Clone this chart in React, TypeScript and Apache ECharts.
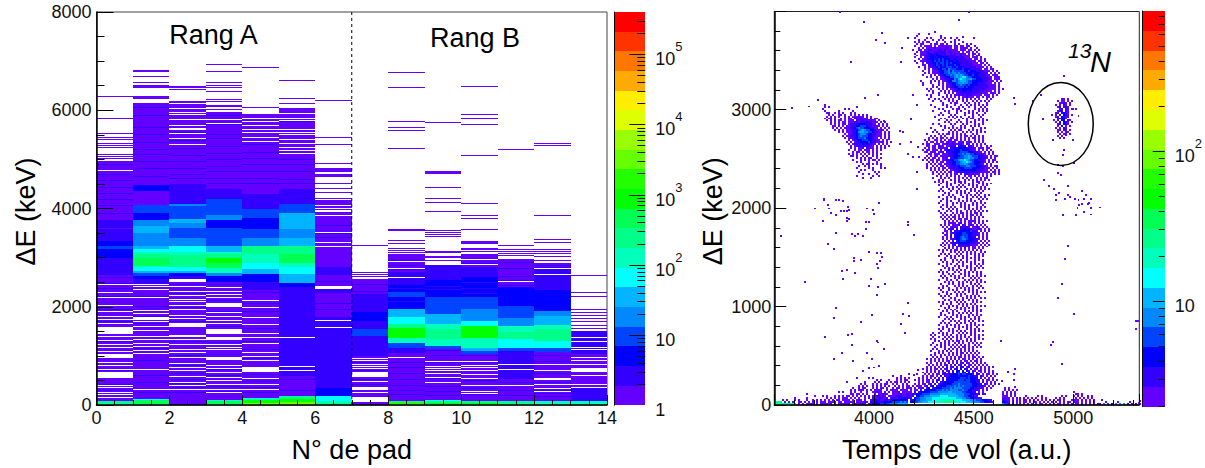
import React, { useEffect, useRef } from "react";
import * as echarts from "echarts";

const FONT = '"Liberation Sans", Arial, sans-serif';
const palette = ["#6400ff","#3300ff","#0000ff","#0044ff","#0088ff","#00b4ff","#00ffff","#00ffbb","#00ff88","#00ff55","#00ff00","#22ff00","#66ff00","#99ff00","#ddff00","#ffee00","#ffaa00","#ff7700","#ff3300","#ff0000"];

// colour scale edges
const leftBarEdges = [1,1.905,3.63,6.92,13.2,25.1,47.9,91.2,174,331,631,1202,2291,4365,8318,15849,30200,57544,109648,208930,398107];
const rightBarEdges = [1.98,2.68,3.63,4.92,6.66,9.03,12.2,16.6,22.4,30.4,41.2,55.8,75.6,102,139,188,255,345,467,633,858];
const leftBarMajor = [10,100,1000,10000,100000];
const leftBarMinor = [2,3,4,5,6,7,8,9,20,30,40,50,60,70,80,90,200,300,400,500,600,700,800,900,2000,3000,4000,5000,6000,7000,8000,9000,20000,30000,40000,50000,60000,70000,80000,90000,200000,300000];
const rightBarMajor = [10,100];
const rightBarMinor = [2,3,4,5,6,7,8,9,20,30,40,50,60,70,80,90,200,300,400,500,600,700,800];

// Left panel: per pad [lowKeV, highKeV, colour level]
const padBands: number[][][] = [
  [[0,30,7],[30,90,8],[90,4957,0],[2900,3000,1],[3000,3170,2],[3170,3240,3],[3240,3330,2],[3330,3573,1],[3600,3760,1],[2640,2900,1]],
  [[0,30,8],[30,100,9],[100,130,6],[130,6141,0],[2440,2560,1],[2560,2625,2],[2625,2693,3],[2693,2727,5],[2727,2800,6],[2800,2830,7],[2830,3000,9],[3000,3065,8],[3065,3120,7],[3120,3170,6],[3170,3235,5],[3235,3760,4],[3500,3640,5],[3760,3900,2],[3900,4076,3],[4350,4480,2]],
  [[0,25,2],[25,6170,0],[2500,2625,1],[2625,2693,2],[2693,2727,5],[2727,2800,6],[2800,3050,8],[3050,3105,7],[3105,3235,6],[3235,3400,4],[3400,3600,3],[3600,3700,4],[3700,3780,5],[3780,4050,3],[4050,4100,4],[4100,4500,1]],
  [[0,30,8],[30,85,9],[85,110,7],[110,5972,0],[2500,2625,2],[2625,2693,4],[2693,2794,7],[2794,2890,9],[2890,3000,10],[3000,3065,8],[3065,3120,7],[3120,3235,5],[3235,3600,3],[3600,3760,2],[3760,3860,4],[3860,4200,3],[4200,4400,1]],
  [[0,50,12],[50,110,10],[110,150,7],[150,5925,0],[2350,2500,1],[2500,2660,2],[2660,2760,5],[2760,2900,6],[2900,3065,7],[3065,3235,8],[3235,3400,4],[3400,3573,3],[3573,3800,2],[3800,4000,3],[4000,4300,1]],
  [[0,55,12],[55,120,10],[120,190,8],[190,6026,0],[2390,2490,2],[2490,2660,5],[2660,2800,6],[2800,2900,7],[2900,3065,9],[3065,3235,8],[3235,3400,5],[3400,3573,4],[3573,3900,5],[3900,4100,3],[4100,4400,1],[600,2400,1]],
  [[0,40,8],[40,90,7],[90,180,6],[180,3840,1],[180,340,2],[1800,2300,0],[2400,3300,0],[2640,2800,1],[3300,3840,0]],
  [[0,66,0],[154,2558,0],[1000,1400,1],[1407,1540,3],[1540,2250,1],[1700,1900,2]],
  [[0,30,10],[30,60,11],[60,90,8],[90,3065,0],[1170,1270,3],[1270,1373,7],[1373,1576,10],[1576,1644,8],[1644,1799,6],[1799,1948,5],[1948,2450,2],[2450,2700,1],[1065,1170,1],[2200,2300,3]],
  [[0,40,10],[40,85,8],[85,110,6],[110,2849,0],[1136,1200,3],[1200,1340,7],[1340,1540,8],[1540,1644,7],[1644,1846,5],[1846,2200,3],[2200,2550,2],[2550,2849,1]],
  [[0,35,10],[35,85,8],[85,3065,0],[1040,1100,3],[1100,1170,5],[1170,1373,7],[1373,1610,10],[1610,1710,6],[1710,1950,4],[1950,2200,3],[2200,2600,2],[2600,2800,1]],
  [[0,30,10],[30,85,8],[85,2977,0],[530,1100,1],[1100,1170,3],[1170,1340,6],[1340,1480,8],[1480,1610,7],[1610,1780,4],[1780,2020,3],[2020,2400,2]],
  [[0,30,8],[30,85,7],[85,2896,0],[1070,1170,3],[1170,1300,6],[1300,1540,8],[1540,1620,7],[1620,1810,5],[1810,1910,4],[1910,2350,2],[2350,2800,1]],
  [[0,30,8],[30,85,7],[85,350,1],[350,1508,0],[1040,1508,1]],
];
const padGaps: number[][][] = [
  [[4770,4790],[2446,2466],[2290,2310],[2175,2195],[2020,2040],[1884,1904],[1789,1809],[1735,1755],[1654,1674],[1440,1596],[1383,1403],[1295,1315],[1227,1247],[1160,1180],[1078,1098],[953,1034],[855,875],[787,807],[720,740],[547,662],[395,415],[347,367],[246,266],[198,218],[144,164]],
  [[2446,2466],[2400,2420],[2345,2365],[2175,2195],[1905,1925],[1860,1880],[1732,1799],[1681,1701],[1586,1606],[1498,1518],[1383,1403],[1320,1335],[1240,1255],[1173,1193],[1110,1125],[1038,1058],[720,740],[300,320]],
  [[2503,2558],[2412,2432],[2310,2330],[2220,2235],[2150,2165],[2087,2107],[2006,2026],[1940,1955],[1820,1835],[1750,1765],[1596,1664],[1420,1435],[1385,1400],[1330,1345],[1230,1245],[1126,1146],[1060,1075],[956,976],[845,860],[760,775],[690,705],[575,590],[460,475],[385,400],[310,325],[5600,5610],[5530,5540],[5430,5440],[5295,5305],[5520,5530],[5620,5630],[5671,5691],[5793,5813],[5894,5914],[5942,5962],[6016,6036],[6118,6138]],
  [[2378,2398],[2310,2325],[2245,2260],[2175,2190],[2002,2070],[1870,1885],[1790,1805],[1725,1740],[1655,1670],[1440,1542],[1320,1393],[1230,1245],[1163,1178],[1115,1130],[910,970],[795,810],[740,755],[655,670],[555,570],[490,505],[420,435],[315,330],[240,255],[5806,5826],[5725,5745]],
  [[2121,2141],[1969,2002],[1769,1789],[1634,1654],[1451,1471],[1365,1380],[1250,1265],[1060,1075],[990,1005],[910,925],[676,777],[540,555],[415,430],[310,325],[5826,5846],[5760,5780],[5671,5691],[5603,5623],[5535,5555],[5440,5460],[5360,5380]],
  [[1363,1383],[774,794],[686,706],[5915,5935],[5826,5846],[5779,5799],[5603,5623],[5535,5555],[5488,5508],[5400,5420],[5305,5325],[5238,5258],[5170,5190],[5102,5122]],
  [[2354,2422],[1701,1721],[1566,1586],[3510,3530],[3306,3326],[3225,3245]],
  [[937,957],[895,910],[825,840],[780,795],[740,755],[574,675],[475,490],[303,357],[250,265]],
  [[3120,3130],[2920,2935],[960,975],[2600,2610],[2780,2790]],
  [[2849,2930],[890,905],[780,795],[740,755],[700,715],[445,460],[640,655],[560,575]],
  [[880,895],[800,815],[765,780],[690,705],[610,625],[530,545],[400,415],[280,295],[230,245],[2860,2875],[2950,2965]],
  [[825,840],[720,735],[400,415],[2510,2525]],
  [[2781,2795],[810,825],[700,715],[510,540],[415,430],[330,345],[270,285],[2650,2665]],
  [[1373,1393],[1277,1297],[1170,1190],[1124,1140],[960,980],[895,910],[825,840],[675,745],[595,610],[420,435],[350,365]],
];
const padLines: number[][] = [
  [6290,5837,5532,5451,5397,5315,5275,5248,5092,5058,5024],
  [6800,6785,6690,6568,6514,6500,6480,6460,6270,6250,6230],
  [6480,6465,6419,6185,6165,6087,6050,5990,5925,5870,5760,5650],
  [6940,6791,6568,6500,6460,6392,6222,6175,6107,6090,6070,6020],
  [6872,6060,5900,5800,5730,5650,5580,5500,5410],
  [6608,6243,6141,6026,6005,5985,5880,5700,5680,5650],
  [6189,5451,5309,4923,4821,4787,4770,4753,4686,4670,4652,4503,4415,4327,4198,4164,4140,4120,4100,4076,4042,4025,3975,3928,3900,3870],
  [3248,2693,2650,2610],
  [6778,6466,5776,5654,5593,5227,3562,3573,3356,3289,3180,3150,3113],
  [5755,4753,4730,4706,4435,4212,4130,3948,3548,3481,3427,3553,3505,3438,3130,3100,3032,3010,2950],
  [6487,5918,5837,5715,5085,4110,3867,3806,3582,3322,3305,3289,3180,3160,3130],
  [5207,3255,3167,3130,3085,3040],
  [5329,5288,3867,3370,3316,3170,3120,3085,3020,2950],
  [2632,2287,2206,1935,1880,1825,1760,1690,1625,1555],
];
const padStripes: number[][] = [
  [4900,4700,4580,4420,4300,4180,4060,3900,2600,2480,2380,2200,1950,1700,1300,1000,700,420,290],
  [6050,5900,5650,5500,5350,5200,5100,4950,4820,4650,2350,2200,2000,1800,1650,1400,1150,900,600,450,250],
  [5550,5380,5220,5080,4960,4820,4700,4610,2460,2270,1980,1700,1290,1000,800,640,520,430,360,250],
  [5900,5700,5500,5420,5260,5120,5000,4860,4760,4620,4500,2450,2130,1900,1600,1280,1020,720,600,380,280],
  [5800,5600,5300,5150,5020,4900,4760,4620,4500,2300,2060,1900,1560,1300,1140,950,620,470,360,250],
  [5780,5500,5000,4900,4760,4600,4500,2280,2050,1700,1420,1100,850,520,300],
  [3650,3500,3420,2520,2300,2060,1950,1620,1450,1250,1000,800,620,500],
  [2450,2320,2150,2060,940,860,700,520,420],
  [2950,2840,2760,2620,2520,2380,2100,960,860,760,650,520,400,300,220],
  [2760,2680,2620,2420,2350,1100,1000,860,700,540,380,280,200],
  [2880,2720,2660,2500,2380,2280,1000,860,760,620,500,340,220],
  [2900,2780,2620,2540,2440,1020,900,760,620,460,300,200],
  [2850,2720,2560,2430,1000,880,640,460,300,240,170],
  [1480,1350,1220,1080,320,260,200,150,120],
];
const dividerX = [[7,0],[7,8000]];

// Right panel: histogram rows, top row first. '.' = empty, digit = colour level + 1
const mainX0 = 4180, mainYTop = 3780;
const rowsMain = [
"............1","....1....1","...1...........1","..1.....1.1....1.1..1..1","....1..1...1..1.1.....1.1",
"..1.1.1.11...1...1..1.1...1","...1.11...1.11.11.1...1.1...1.1","..1..1.1111.1.1111111.11.11.11..1","....1.1.1111211111211.11.1111.1..1",".1..11.11221112212111111.111.11.1.1",
"...1.11122112222221221111.1.11.1.1","..1..11122322322221121211211.1.11.1","...1.1122233233322222221121111.1.11","..1..1.12233323333322222222111.111.1","....1.1123332343433322322222111.11.1.1",
"..1..1112223434343433323222222111.11.1","...1..1.12233434434343333222222111.11.1","......11.222342343433343322222211111.1.1","....1..1.1122343234443343322222221111.1.1",".......1.1.1223344354443334333222221.11.11",
"......1..1.11123344535444443343332222111.1.1",".......1.1.1112334454554544433323332222.1.1.1","......1...1.1.12234454565654433433222211.111","........1.1..1.12233445656775443333222211.111","...........1.1.11222335467665564433322221.111",
".....1....1.1.1.11233554566654433333222111.1.1","......1...1...1.1.12233455655443332222111.1.1","......1....1..1.1.1123344544343333222221111.1","...........1.1..1.1122334443433322222221111.1","........1.1...1.1.1.11223233333222222211111.1.1",
".........1.1...1.1.1.11222332232222121111.1.1","...........1..1..1.1.1.1222222222212111.111.1","........1.1...1...1.1.11212122211111.111.1.1","..........1.....1.1.1.1.1.112111.11.1.11.1",".........1..1.1..1.1.1..1.1.1.1.1.1...1.1",
"...........1...1...1.1.1..1.1..1.1.1.1.1","................1...1.11...1.1..1.1...1","..........1.....1.1...1..1..1.1.1.1.1.1","............1.....1.1...1.1..1..1..1.1","..............1.1....1.11..1....1.1.1.1",
"...........1.....1.1...1.1...1.1..1.1.1","...............1...1...1...1.1.1.1...1","..............1.1...1.1....1...1..1.1","............1......1.1.1.1...1.1...1","...............1.1....1...1.1.11..1.1",
"..............1...1.1...1...1...1.1.1.1",".................1.1...1.1..1.1.1...1","...........1..1.....1.1...1.1...1.1.1","...............1.1...1...1.1..1.1.1","..........1......1.1.1.1.1.1...1...1.1",
"............1...1...1.1.11...1.1.1.1","...........1.1.....1.1.1..1.1.1..1.1.1","........1.....1.1.11.1.1.1.1...1.1","..........1.1..1.1...1.1.1.11.1.1.1.1",".........1.1.1.11.1.11.1.1.1.1.11.1.1",
".......1.1..11.1.1.11.11.1.1.1..1.1.1","........1.11.1.11.11121.112.111.1.1.1","......1.11..111.11211211221.21.1.1.1.1","........11.11.211.11222.2322.221.1.1..1.1",".......1.1.11.21112.2232333322221.111.11",
"......1.11.111.2.1232233343332211.1.1.1.1",".......11.111.112.222333344443332211.1.1.1",".........11.111.1112223344545544322211.1.1","........1.1.11.111122233344556544432211.1.11",".......1.1.11.1.112.2233444556554432221.1.1",
"......1.1.11.11.1122334456676544332221.1.11",".........1.1.1.11.12233445667654333221.1.1.1","........1.1.1.11.11223344556544433221.1.1","........1..1.1.11.112222344455444333221.1.11","........1.1.1.1.11.122223334444333322111.1.1",
"..........1.1.1.1.1.1122233333333222211.1.1.1","...........1.1.1.1.11.122222222222211111.11.1","...........1..1.1.1.1.11.1.22112111.1.1.1.1.1",".............1.1..1.1.1.1..1.11.1.1.1.1.1","...........1...1.1.1..1.1.1.1.1..1.1.11",
"..............1.1...1.1.1..1.1.1.1.1.1.1","............1.1.1.1...1.11.1...1.11.1","...............1..1.1.1..1.1.1.1..1.1.1.1","..............1...1.1...1.1..1.1.1..1.1","................1.1..1.1.1.1...1.1.1.1",
"...............1...1.1..1...1.1.1..1.1.1","..............1.1...1..1.1.1..1.1.1.1",".................1.1...1.1.1.1...1.1","................1..1.1...1..1.1.1.1..1.1","..............1...1.1.1...1.1..1.1.1.1",
"................1.1...1.1...1.1...1.1.1","...............1..1.1...1.1.1.1.1..1","..............1...1..1.1.1.1...1.1.1.1","................1.1..1...1.1.1.1.1..1","...............1..1.1.1..1.1.1...1.1.1",
"................1..1.1.1...1.1.1.1.1","..............1...1.1..1.1..1.1.1.1.1.1","...............1.1...1.1.11.1.1.11.1","................1.1.1.1.1.1.1.11.1.1","...............1.1.1.11.1.1.1.1.1.1.1",
"................1.1.1.1.11.11.1.1.1",".................1.1.1.1.1.1.1111.1.1.1",".................1.1111.12.1.11.1.1.1","...............1.1.1.1112.21.121.1.1.1","................1.1.1211.22221.1121.1.1",
".................1.122.2.22323211121.1.1",".................11.2.222333334222.1.1.1","................1.1.122333443332221.1.1",".................11.2.2333444332221.1.1","................1.1.2.23345443322.1.1.1",
"................1.1.122334554333221.1.1",".................1.1.2.23444333222.1.1.1","................1.1.122233333322211.1.1","...............1.1.1.22.2222222111.1.1.1","................1..1.1.1211112.11.1.1.1",
".................1.1.1.1.1.2.1.11.1.1","..............1.1.1.1.11.1.1.1.1.1.1","................1...1.1.1.1.1.1.1..1.1","...............1.1.1...1.1..1.1.1.1.1","..............1...1.1.1.1.1.1...1.1.1",
".................1..1.1...1.1.1.1.1","...............1.1...1.1.1..1...1.1.1","................1.1..1..1.1.1.1.1...1","..............1...1.1..1..1...1.1.1.1","................1.1...1.1.1.1.1..1.1",
".................1.1.1..1...1.1.1.1.1","...............1...1.1.1.1.1..1.1","..............1.1.1...1.1..1.1.1.1.1","................1..1.1...1.1.1...1.1","...............1.1..1.1.1..1.1.1.1.1.1",
"................1.1...1.1.1...1.1.1","..............1...1.1..1...1.1.1.1.1",".................1.1.1..1.1.1.1..1.1.1","...............1...1.1..1.1...1.1.1","................1.1...1.1.1.1..1.1.1",
"..............1.1..1...1.1.1.1.1..1.1","...............1...1.1.1...1.1.1.1","................1.1...1.1.1..1.1.1.1.1","..............1...1.1..1.1.1...1.1","...............1.1.1...1.1..1.1.1.1",
"................1...1.1...1.1.1.1..1.1",".................1.1..1.1.1..1.1.1","..............1.1...1..1.1.1...1.1.1","................1.1.1...1.1.1.1.1","...............1...1.1.1..1.1..1.1.1.1",
".................1.1...1.1.1.1.1.1","..............1...1.1.1..1.1...1.1.1","................1.1..1.1...1.1.1.1.1","...............1...1.1..1.1.1.1..1","...............1.1...1.1.1...1.1.1.1",
"..............1...1.1..1.1.1.1..1.1",".................1.1.1...1.1..1.1.1","................1...1.1.1..1.1.1..1.1","...............1.1.1...1.1.1..1.1","..............1...1.1.1.1...1.1.1.1.1",
"................1.1...1.1.1.1.1..1","..............1.1..1.1..1...1.1.1.1","...............1...1.1.1.1.1..1.1.1.1","...........1..1.1.1..1..1.1.1.1.1","..........1.1...1.1.1..1.1.1..1.1.1.1",
"...........1..1..1.1.1.1.1.1.1..1.1","..........1.1...1.1.1..1.1..1.1.1.1.1","............1.1..1.1.1.11.1.1.1.1","...........1...1.1.1..1.1.1..1.1.1.1","..........1..1.1.1.1.1.1.1.1.1..1.1",
"............1..1.1..1.1.1.11.1.1.1.1","...........1.1...1.1.1.1.1.1.1.1","..........1...1.1.1.1..1.1.1.1.1.1","............1.1.1..1.1.1.11.1.1.1.1","..........1.1..1.1.1.1.1.1.1.1.1.1",
"...........1.1.1..1.1.1.11.1.1.11.1.1","........1.1.1.1.1.1.1.2.1.11.1.1.1.1","..........1.1.1.1.11.1.2.1.11.1.11.1","........1.1..1.1.1.2.1.2.12.11.1.1.1.1",".........1.1.1.1.12.1.2.12.2.11.1.1.1.1",
"........1.1.1.1.1.2.12.2.22.12.1.1.1.1.1.1","......1.1.1.11.1.12.2.22.3.22.2.11.1.1.1","........1.1.1.1.2.12.2.33.3.32.21.11.1.1.1","......1.1.1.1.1.12.2.3.34.33.3.2.2.1.1.1.1","...1...1.1.1.11.2212233343443332.22.1.11.1.1",
"......1.1.11.1.2.21233332333343322.21.1.1.1","....1.1.1.1.1.2.2.2333333444343332.2.1.1.1","..1.1.1.11.1.22.2.23333344434433322.2.11.1.1","....1.1.11.2.2.22333334444444433322.2.1.1.1","..1.1.11.12.2.2233333444544444433322.21.1.1.1",
".1.111.12.23.2233344445454544443332221.1.1","1.1.112.23.22333444454555544443322221.1.1","1.11.2.2333334445454555544544332221.1.1","1.2.23333344445555566555554433322.1.1","12233344445555566666666555544433322.21",
"12.3344555666667777666665554433211","2.3445556667777777777776665544332211","23344555666777888889888777666655544433322","334455666777788889999888877766665554433321",
];
const leftX0 = 3720, leftYTop = 3040;
const rowsLeft = [
"...1","...1.1.............1","..1..........1.1","...1......1......1","....11..1.1.1...1.1",".....1.1..11.1..1.1.1.1.1","....1.1.1.1..1.1.111111.1.1",
"...1.11.1..1.1.11.2112121.1.11","....1.1.1.11.1.111.2122121111.1","......1.1.1.11.111221222322111.1.1","......1.1.1.11.12222333322211.1.1.1",".......11.1.1.11222334443221211.1.1",".......1.1.1.11122345443332211.1.1.1",
"........1.1.1.1112234565443321111.1","..........1.1.111223566554432211.1.1",".............1.11223455543322111.1.1","............1.112223454443322111.1.1",".............1.112234445333211.1.1.1",
"...............1.12233444332211.1.1","..............1.1.122333343221111.1.1","...............1.122223232211.1.1.1","................1.1222222211.1.1.1.1","................1.1.112.2111.1.1.1",
"...............1..1.11.111.1.1.1",".................1.11.1.11.1.1","...............1.1.1.1.1.1.1.1.1","................11.1..1.1..1.1","...................1.1.1.11..1.1",
".................1...1.1.1.11.1","...................1.1...1...1","......................1.11.1.1.1","....................1..1.1.....1","...................1.....1.1...1.1",
".....................1.1...1","....................1.......1.1","......................1..1...1","...................1.......1..1","......................1...1",
];
const n13X0 = 4880, n13YTop = 3100;
const rowsN13 = [
"......11.1","....1.11.1.1",".....1121.1","...1.1.21.1","....12.221",".....12.21.1.1","....122.21","...12.2321",".1.1.2.321.1","...12.3211",
"....12331","..1.2.33.21","...1.2.321.1","....12.321","....1.3.1.1","...1.1.21","....11.21.1","....1.1.11",".....1.11.1","....1.1",".....1.1",
];
const bottomLeftX0 = 3510, bottomLeftYTop = 280;
const rowsBottomLeft = [
"..........................................................1...1",
"........................................1.....1.1...........1.1.1.1",
"..................................................1.1...1...1.1.11",
"...................................1........1....1.1...1.1.11.1.1.1",
"..........................................1.1...1.1.1.11..1.1..1.1",
".........................................1.1.1..1.1.1.1.1..1.1.1.11",
"......................................1..1.11...1.1.11.1..1.11.1.11",
".....................................1.1.111.1.1.1111..1.1111.1111",
"...............................1.1...1.1..1..1..11211.1.1.1112.1111",
"...............1.....................11.11.1.1...1.11211..111121122",
"...................1...1.1...1.1.1.11.1.1.1.1.1.1122121.111122211222",
".........1.....1.........1.1.1.1.111.1.1.1..1.1.21122112.1221222322",
"...1.1...1.1...1..1.1.1.1.1.1.11.1111.1.111.1..1232211221233333333",
"999.1.1.1..11.1.1.1.1.111.1111.11.11111.111121.2233222333344445454",
"9999999999.1.1.1111.1.111111.1.111112.1111222.12333344344555566666",
];
const bottomRightX0 = 4640, bottomRightYTop = 160;
const rowsBottomRight = [
".1.1",
".1.1.1.1",
"1.1.1.1.............................1",
"1.1.1.1..............................11.1",
"111.1.1.....1.....1.1.........1.1...1.1.1..1.1",
"1211.1.1.1.1.1.1.1..1.1....1.1.1.....1.1.1.1.1",
"2211.1.1.1.11.1.1.1.1.1.1.1.11.1...1111.1.1.1.1...1",
"3321.1.1.1.11.1.11.1.1.1.1.1.1.1.11.211.1.1.1.1.....1.....1.....1......1",
"5442.2.1.1.1.1.1.1.11.1.1.1.11.1.1.1.11.2.1.1.1.22.5.4.3.5.5.5.3.1.2.1.1.1",
];
const sparseX = [3528,3762,3792,3807,3884,3900,3916,3938,3955,3971,4010,4030,4035,4027,4008,4013,3896,3893,3930,3859,3833,3899,3838,3980,4050,3968,4013,4010,3649,3804,3792,3930,3985,4139,4169,4130,4150,4164,3749,3863,3883,3884,4008,4013,4045,3833,3958,3792,3889,3985,4021,3996,3971,4214,4197,4172,3941,4968,4951,4938,4918,4996,5309,5309,4891,4884,4938,4632,4702,4699,4665,4699,4702,4637,4946,4699,4702,4791,4833,4843,5021,4991,4891,4993,4960,4946,4941,4918,4941,4996,4918,4933,4848,4871,4899,4921,4908,4908,4968,4966,4951,4980,5005,5038,5021,5058,5050,5083,5041,5025,5016,5067,5075,5128,5085,5047,5083,5008,4941,4473,4423,4440,4495,3824,3943,4035,4003,4048,3879,4130,4164,4135,4013,3950,3716,3583,3670,4180,4210,4189,4124,4140,4127,4068,4043,3742,3746,3804,3821,3838,3762,3699,3771,3779,3804,3829,3846,3858,3863,3871,3858,3868,3859,3737,3958,3988,4021,3996,3955,3971,4180,4164,4189,4214,4222,4210,4210,4167,4164,4197,5320,5330,5325];
const sparseY = [1702,1624,1570,1742,1726,1702,1726,1702,1773,1540,1536,1530,1489,1452,1422,1378,1479,1452,1459,1358,1351,1327,1266,1266,1216,1199,1185,1108,1236,973,871,831,905,912,891,810,719,1023,679,702,709,598,645,625,557,517,517,456,436,456,388,371,365,348,297,307,331,1604,1472,1219,1074,912,841,763,628,601,409,642,355,304,324,247,172,230,3336,3113,3049,3073,3134,2897,2921,3000,2678,2678,2728,2576,2533,2431,2414,2448,2350,2323,2279,2212,2181,2148,2121,2070,2215,2121,2087,2104,2087,2161,2070,2121,2087,2087,2036,2026,1992,2036,2046,1996,1992,1952,1925,1918,1918,3985,3904,3731,3721,3985,3883,3765,3698,3667,3478,3478,3715,3617,3140,3113,3090,3009,3022,2897,3039,3140,2769,2762,2644,2695,2870,2087,2070,2070,2070,2063,2026,1986,1986,1942,1918,1958,1958,1965,2002,1969,1891,1884,1857,1857,1986,1969,2046,1935,1844,1844,2661,2543,2509,2610,2509,2357,2181,1851,1823,1715,841,30,10];
const ellipse13N = [[4937,2854,163,422]];
const yTicksLeft = { min: 0, max: 8000, interval: 2000 };
const xTicksLeft = { min: 0, max: 14, interval: 2 };

function histCells(rows: string[], x0: number, yTop: number) {
  const out: number[][] = [];
  rows.forEach((r, i) => {
    const y = yTop - i * 20;
    Array.from(r).forEach((c, j) => {
      if (c !== ".") out.push([x0 + j * 10, y, x0 + (j + 1) * 10, y + 20, parseInt(c, 36) - 1]);
    });
  });
  return out;
}
function padCells() {
  const bands: number[][] = [], gaps: number[][] = [], lines: number[][] = [], stripes: number[][] = [];
  padBands.forEach((list, p) => list.forEach((b) => bands.push([p, b[0], p + 1, b[1], b[2]])));
  padStripes.forEach((list, p) => list.forEach((v) => stripes.push([p, v - 10, p + 1, v + 10, 1])));
  padGaps.forEach((list, p) => list.forEach((g) => gaps.push([p, g[0], p + 1, g[1], -1])));
  padLines.forEach((list, p) => list.forEach((v) => lines.push([p, v - 10, p + 1, v + 10, 0])));
  return { bands, gaps, lines, stripes };
}
function barCells(edges: number[]) {
  return edges.slice(0, -1).map((e, i) => [0, e, 1, edges[i + 1], i]);
}
const renderCell = (_: any, api: any) => {
  const a = api.coord([api.value(0), api.value(1)]);
  const b = api.coord([api.value(2), api.value(3)]);
  const x0 = Math.round(a[0]), x1 = Math.round(b[0]);
  const y1 = Math.round(a[1]), y0 = Math.round(b[1]);
  const lv = api.value(4);
  return {
    type: "rect",
    shape: { x: x0, y: y0, width: Math.max(1, x1 - x0), height: Math.max(1, y1 - y0) },
    style: { fill: lv < 0 ? "#ffffff" : palette[lv] },
  };
};
const cellSeries = (data: number[][], i: number, z = 2) => ({
  type: "custom", xAxisIndex: i, yAxisIndex: i, data, renderItem: renderCell, z, silent: true, clip: false,
  encode: { x: [0, 2], y: [1, 3] }, progressive: 0, animation: false,
});
const tickSeries = (values: number[], i: number, len: number) => ({
  type: "custom", xAxisIndex: i, yAxisIndex: i, data: values.map((v) => [1, v]), z: 5, silent: true, clip: false,
  encode: { x: 0, y: 1 }, animation: false,
  renderItem: (_: any, api: any) => {
    const p = api.coord([1, api.value(1)]);
    return { type: "line", shape: { x1: p[0] - len, y1: Math.round(p[1]) + 0.5, x2: p[0], y2: Math.round(p[1]) + 0.5 }, style: { stroke: "#111", lineWidth: 1 } };
  },
});
const barLabel = (v: number) => {
  const e = Math.log10(v);
  if (Math.abs(e - Math.round(e)) > 1e-6) return "";
  const r = Math.round(e);
  if (r === 0) return "{b|1}";
  if (r === 1) return "{b|10}";
  return `{b|10}{s|${r}}`;
};
const barRich = {
  b: { fontSize: 18, fontFamily: FONT, color: "#111", lineHeight: 28, verticalAlign: "bottom" },
  s: { fontSize: 13, fontFamily: FONT, color: "#111", lineHeight: 28, verticalAlign: "top" },
};
const plain = (v: number) => String(v);
const mainAxis = (o: any) => ({
  type: "value", z: 5, scale: false, splitLine: { show: false },
  axisLine: { show: true, onZero: false, lineStyle: { color: "#000", width: 1.5 } },
  nameTextStyle: { fontSize: 27, fontFamily: FONT, color: "#000" },
  nameLocation: "middle",
  ...o,
});

export default function App() {
  const ref = useRef<HTMLDivElement>(null);
  useEffect(() => {
    const chart = echarts.init(ref.current!, undefined, { renderer: "svg", width: 1205, height: 468 });
    const pads = padCells();
    const rightCells = [
      ...histCells(rowsBottomLeft, bottomLeftX0, bottomLeftYTop),
      ...histCells(rowsBottomRight, bottomRightX0, bottomRightYTop),
      ...histCells(rowsLeft, leftX0, leftYTop),
      ...histCells(rowsN13, n13X0, n13YTop),
      ...sparseX.map((x, i) => [x, sparseY[i], x + 10, sparseY[i] + 20, 0]),
      ...histCells(rowsMain, mainX0, mainYTop),
    ];
    chart.setOption({
      animation: false,
      backgroundColor: "#fff",
      grid: [
        { left: 96.5, width: 510.5, top: 12, height: 394, show: true, borderColor: "#444", borderWidth: 1, containLabel: false },
        { left: 774.3, width: 365, top: 11.5, height: 394.5, show: true, borderColor: "#222", borderWidth: 1, containLabel: false },
        { left: 614, width: 31.3, top: 12, height: 393.2, containLabel: false },
        { left: 1142, width: 23, top: 11, height: 395.5, containLabel: false },
      ],
      xAxis: [
        mainAxis({ gridIndex: 0, ...xTicksLeft, name: "N° de pad", nameGap: 31,
          axisLabel: { fontSize: 18, fontFamily: FONT, color: "#111", margin: 4, formatter: plain },
          axisTick: { inside: true, length: 10, lineStyle: { color: "#000" } },
          minorTick: { show: true, splitNumber: 4, length: 5, lineStyle: { color: "#000" } } }),
        mainAxis({ gridIndex: 1, min: 3500, max: 5331, interval: 500, name: "Temps de vol (a.u.)", nameGap: 31,
          axisLabel: { fontSize: 18, fontFamily: FONT, color: "#111", margin: 4, showMinLabel: false, showMaxLabel: false, formatter: plain },
          axisTick: { inside: true, length: 11, lineStyle: { color: "#000" } },
          minorTick: { show: true, splitNumber: 5, length: 5, lineStyle: { color: "#000" } } }),
        { type: "value", gridIndex: 2, min: 0, max: 1, show: false },
        { type: "value", gridIndex: 3, min: 0, max: 1, show: false },
      ],
      yAxis: [
        mainAxis({ gridIndex: 0, ...yTicksLeft, name: "ΔE (keV)", nameGap: 57,
          nameTextStyle: { fontSize: 27, fontFamily: FONT, color: "#000", padding: [0, 6, 0, 0] },
          axisLabel: { fontSize: 18, fontFamily: FONT, color: "#111", margin: 5, formatter: plain },
          axisTick: { inside: true, length: 17, lineStyle: { color: "#000" } },
          minorTick: { show: true, splitNumber: 4, length: 8, lineStyle: { color: "#000" } } }),
        mainAxis({ gridIndex: 1, min: 0, max: 3997, interval: 1000, name: "ΔE (keV)", nameGap: 48,
          nameTextStyle: { fontSize: 27, fontFamily: FONT, color: "#000", padding: [0, 6, 0, 0] },
          axisLabel: { fontSize: 18, fontFamily: FONT, color: "#111", margin: 3, showMaxLabel: false, formatter: plain },
          axisTick: { inside: true, length: 12, lineStyle: { color: "#000" } },
          minorTick: { show: true, splitNumber: 5, length: 6, lineStyle: { color: "#000" } } }),
        { type: "log", gridIndex: 2, position: "right", min: 1, max: 398107, logBase: 10, z: 5, splitLine: { show: false },
          axisLine: { show: true, lineStyle: { color: "#000", width: 1 } }, axisTick: { show: false },
          axisLabel: { margin: 10, formatter: barLabel, rich: barRich } },
        { type: "log", gridIndex: 3, position: "right", min: 1.98, max: 858, logBase: 10, z: 5, splitLine: { show: false },
          axisLine: { show: true, lineStyle: { color: "#000", width: 1 } }, axisTick: { show: false },
          axisLabel: { margin: 10, formatter: barLabel, rich: barRich } },
      ],
      series: [
        cellSeries(pads.bands, 0, 2),
        cellSeries(pads.stripes, 0, 2.5),
        cellSeries(pads.gaps, 0, 3),
        cellSeries(pads.lines, 0, 4),
        { type: "line", xAxisIndex: 0, yAxisIndex: 0, data: dividerX, showSymbol: false, z: 6, silent: true,
          lineStyle: { color: "#000", width: 1, type: [3, 3] } },
        cellSeries(rightCells, 1, 2),
        { type: "custom", xAxisIndex: 1, yAxisIndex: 1, data: ellipse13N, z: 6, silent: true, clip: false,
          encode: { x: 0, y: 1 }, animation: false,
          renderItem: (_: any, api: any) => {
            const c = api.coord([api.value(0), api.value(1)]);
            const e = api.coord([api.value(0) + api.value(2), api.value(1) + api.value(3)]);
            return { type: "ellipse", shape: { cx: c[0], cy: c[1], rx: e[0] - c[0], ry: c[1] - e[1] }, style: { fill: "none", stroke: "#000", lineWidth: 1.5 } };
          } },
        cellSeries(barCells(leftBarEdges), 2, 2),
        tickSeries(leftBarMinor, 2, 8),
        tickSeries(leftBarMajor, 2, 16),
        cellSeries(barCells(rightBarEdges), 3, 2),
        tickSeries(rightBarMinor, 3, 6),
        tickSeries(rightBarMajor, 3, 12),
      ],
      graphic: [
        { type: "text", x: 213.5, y: 35, z: 20, style: { text: "Rang A", font: `27px ${FONT}`, fill: "#000", textAlign: "center", textVerticalAlign: "middle" } },
        { type: "text", x: 475, y: 38, z: 20, style: { text: "Rang B", font: `27px ${FONT}`, fill: "#000", textAlign: "center", textVerticalAlign: "middle" } },
        { type: "text", x: 1068, y: 50, z: 20, style: { text: "13", font: `italic 21px ${FONT}`, fill: "#000", textAlign: "left", textVerticalAlign: "middle" } },
        { type: "text", x: 1090, y: 62, z: 20, style: { text: "N", font: `italic 29px ${FONT}`, fill: "#000", textAlign: "left", textVerticalAlign: "middle" } },
      ],
    });
    return () => chart.dispose();
  }, []);
  return <div ref={ref} style={{ position: "absolute", left: 0, top: 0, width: 1205, height: 468, background: "#fff" }} />;
}
